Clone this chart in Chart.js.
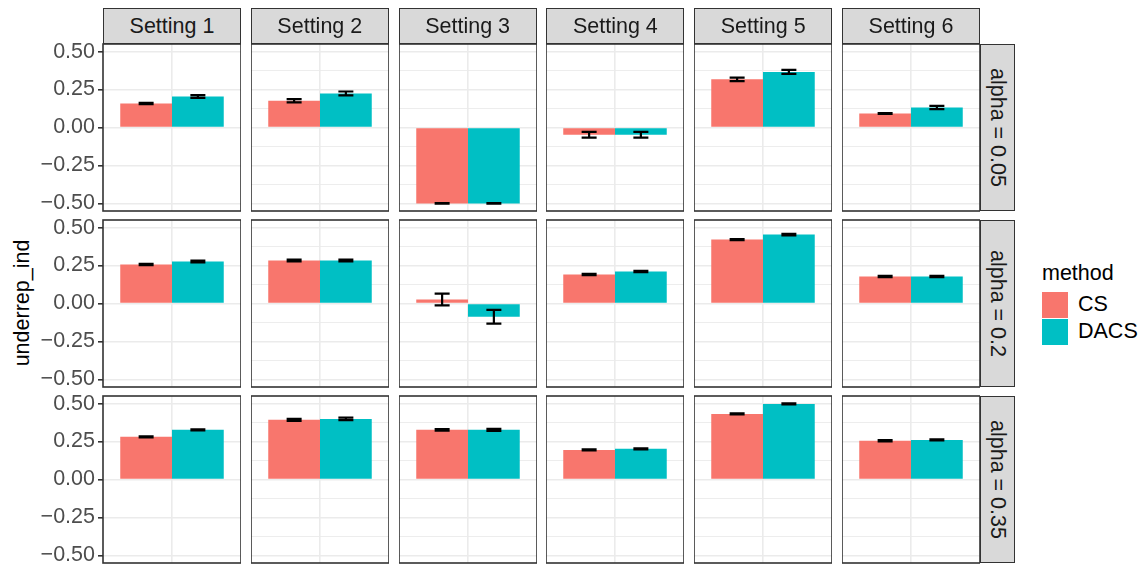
<!DOCTYPE html>
<html>
<head>
<meta charset="utf-8">
<title>underrep_ind by setting and alpha</title>
<script src="https://cdn.jsdelivr.net/npm/chart.js@4.4.1/dist/chart.umd.min.js"></script>
<style>
  body { margin: 0; background: #fff; font-family: "Liberation Sans", Arial, sans-serif; }
  #wrap { position: relative; width: 1143px; height: 565px; overflow: hidden; }
  #wrap canvas { position: absolute; }
  .strip {
    position: absolute; box-sizing: border-box;
    background: #d9d9d9; border: 1.6px solid #333;
    color: #1a1a1a; font-size: 21.5px;
    display: flex; align-items: center; justify-content: center;
    z-index: 2;
  }
  .strip.side span { transform: rotate(90deg); white-space: nowrap; }
  #ytitle {
    position: absolute; left: 22px; top: 303px; font-size: 21.5px; color: #000;
    transform: translate(-50%, -50%) rotate(-90deg); white-space: nowrap;
  }
  #legend { position: absolute; left: 1042px; top: 262px; font-size: 21.5px; color: #000; }
  #legend .title { height: 29px; line-height: 22px; }
  #legend .item { display: flex; align-items: center; height: 27px; }
  #legend .key { width: 26px; height: 26px; margin-right: 10px; }
</style>
</head>
<body>
<div id="wrap">
  <div id="ytitle">underrep_ind</div>
  <div id="legend"></div>
</div>
<script>
const settings = ['Setting 1', 'Setting 2', 'Setting 3', 'Setting 4', 'Setting 5', 'Setting 6'];
const alphaLabels = ['alpha = 0.05', 'alpha = 0.2', 'alpha = 0.35'];
const methods = ['CS', 'DACS'];
const methodColors = ['#F8766D', '#00BFC4'];

// mean underrep_ind, one row per alpha, one entry per setting
const csMean = [
  [0.158, 0.176, -0.500, -0.048, 0.317, 0.092],
  [0.257, 0.283, 0.026, 0.191, 0.421, 0.178],
  [0.281, 0.393, 0.327, 0.195, 0.432, 0.255]
];
const dacsMean = [
  [0.204, 0.224, -0.500, -0.048, 0.366, 0.132],
  [0.276, 0.283, -0.087, 0.211, 0.454, 0.178],
  [0.327, 0.399, 0.327, 0.202, 0.498, 0.261]
];
// half-width of the error bars
const csErr = [
  [0.004, 0.011, 0.002, 0.019, 0.011, 0.003],
  [0.004, 0.006, 0.039, 0.004, 0.004, 0.004],
  [0.004, 0.007, 0.005, 0.004, 0.004, 0.004]
];
const dacsErr = [
  [0.009, 0.013, 0.002, 0.019, 0.013, 0.011],
  [0.006, 0.006, 0.045, 0.004, 0.005, 0.004],
  [0.004, 0.008, 0.007, 0.004, 0.004, 0.004]
];

const yMajor = [-0.5, -0.25, 0, 0.25, 0.5];
const yTickLabels = ['\u22120.50', '\u22120.25', '0.00', '0.25', '0.50'];
const yMinor = [-0.375, -0.125, 0.125, 0.375];

// facet grid geometry
const PANEL_X0 = 103, PANEL_DX = 147.8, PANEL_W = 138;
const PANEL_Y = [44, 220, 396], PANEL_H = 167;
const AXIS_W = 70, EXT = 16;

const wrap = document.getElementById('wrap');

// error bars on top of each dodged bar
const errorBars = {
  id: 'errorBars',
  afterDatasetsDraw(chart) {
    const ctx = chart.ctx, y = chart.scales.y;
    ctx.save();
    ctx.strokeStyle = '#000';
    ctx.lineWidth = 2.2;
    chart.data.datasets.forEach((ds, i) => {
      const bar = chart.getDatasetMeta(i).data[0];
      const top = y.getPixelForValue(ds.data[0] + ds.err);
      const bot = y.getPixelForValue(ds.data[0] - ds.err);
      const half = bar.width * 0.145;
      ctx.beginPath();
      ctx.moveTo(bar.x, top); ctx.lineTo(bar.x, bot);
      ctx.moveTo(bar.x - half, top); ctx.lineTo(bar.x + half, top);
      ctx.moveTo(bar.x - half, bot); ctx.lineTo(bar.x + half, bot);
      ctx.stroke();
    });
    ctx.restore();
  }
};

// dark frame round the plotting area
const panelBorder = {
  id: 'panelBorder',
  afterDraw(chart) {
    const { ctx, chartArea: a } = chart;
    ctx.save();
    ctx.strokeStyle = '#333';
    ctx.lineWidth = 1.6;
    ctx.strokeRect(a.left, a.top, a.right - a.left, a.bottom - a.top);
    ctx.restore();
  }
};

const isMajor = v => yMajor.includes(v);

function makePanel(row, col) {
  const withAxis = col === 0;
  const left = PANEL_X0 + PANEL_DX * col - (withAxis ? AXIS_W : 0);
  const canvas = document.createElement('canvas');
  canvas.width = PANEL_W + (withAxis ? AXIS_W : 0);
  canvas.height = PANEL_H + EXT * 2;
  canvas.style.left = left + 'px';
  canvas.style.top = (PANEL_Y[row] - EXT) + 'px';
  wrap.appendChild(canvas);

  new Chart(canvas, {
    type: 'bar',
    data: {
      labels: [''],
      datasets: [
        { label: methods[0], data: [csMean[row][col]], err: csErr[row][col], backgroundColor: methodColors[0] },
        { label: methods[1], data: [dacsMean[row][col]], err: dacsErr[row][col], backgroundColor: methodColors[1] }
      ]
    },
    options: {
      responsive: false,
      animation: false,
      events: [],
      layout: { padding: { top: EXT, bottom: EXT, left: 0, right: 0 } },
      datasets: { bar: { categoryPercentage: 0.75, barPercentage: 1.0, borderWidth: 0 } },
      plugins: { legend: { display: false }, tooltip: { enabled: false } },
      scales: {
        x: {
          offset: true,
          grid: { offset: false, color: '#ebebeb', lineWidth: 1.6, drawTicks: false },
          ticks: { display: false },
          border: { display: false },
          afterFit: s => { s.height = 0; }
        },
        y: {
          min: -0.55,
          max: 0.55,
          afterBuildTicks: s => {
            s.ticks = yMajor.concat(yMinor).sort((a, b) => a - b).map(v => ({ value: v }));
          },
          afterFit: s => { s.width = withAxis ? AXIS_W : 0; },
          ticks: {
            display: withAxis,
            color: '#4d4d4d',
            font: { family: '"Liberation Sans", Arial, sans-serif', size: 21.5 },
            padding: 3,
            callback: v => {
              const k = yMajor.indexOf(v);
              return k >= 0 ? yTickLabels[k] : '';
            }
          },
          grid: {
            color: '#ebebeb',
            lineWidth: c => isMajor(c.tick.value) ? 1.6 : 0.9,
            drawTicks: withAxis,
            tickLength: 5,
            tickWidth: 1.6,
            tickColor: c => isMajor(c.tick.value) ? '#333' : 'rgba(0,0,0,0)'
          },
          border: { display: false }
        }
      }
    },
    plugins: [errorBars, panelBorder]
  });
}

for (let r = 0; r < alphaLabels.length; r++) {
  for (let c = 0; c < settings.length; c++) makePanel(r, c);
}

// column strips
settings.forEach((s, c) => {
  const d = document.createElement('div');
  d.className = 'strip';
  d.style.left = (PANEL_X0 + PANEL_DX * c) + 'px';
  d.style.top = '8px';
  d.style.width = PANEL_W + 'px';
  d.style.height = (PANEL_Y[0] - 8) + 'px';
  d.textContent = s;
  wrap.appendChild(d);
});

// row strips
alphaLabels.forEach((a, r) => {
  const d = document.createElement('div');
  d.className = 'strip side';
  d.style.left = (PANEL_X0 + PANEL_DX * 5 + PANEL_W) + 'px';
  d.style.top = PANEL_Y[r] + 'px';
  d.style.width = '35px';
  d.style.height = PANEL_H + 'px';
  const sp = document.createElement('span');
  sp.textContent = a;
  d.appendChild(sp);
  wrap.appendChild(d);
});

// legend
const legend = document.getElementById('legend');
legend.innerHTML = '<div class="title">method</div>' + methods.map((m, i) =>
  `<div class="item"><div class="key" style="background:${methodColors[i]}"></div>${m}</div>`
).join('');
</script>
</body>
</html>
